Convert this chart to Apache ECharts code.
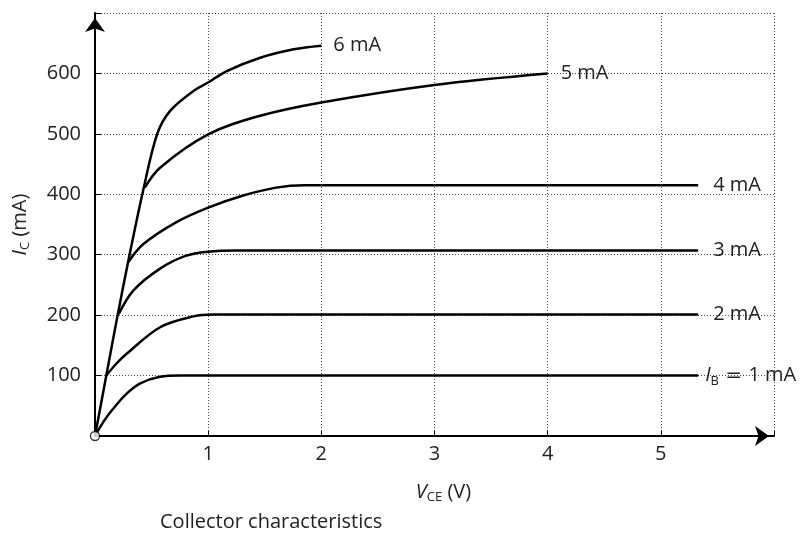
<!DOCTYPE html>
<html>
<head>
<meta charset="utf-8">
<script src="https://cdn.jsdelivr.net/npm/echarts@6/dist/echarts.min.js"></script>
<style>
  html, body { margin: 0; padding: 0; background: #fff; }
  #chart { width: 805px; height: 535px; }
</style>
</head>
<body>
<div id="chart"></div>
<script>
// collector curves, [V_CE (V), I_C (mA)]
const ib1 = [[0, 0], [0.08, 25], [0.16, 45], [0.28, 70], [0.4, 87], [0.575, 98], [0.75, 100], [5.33, 100]]
const ib2 = [[0.1, 100], [0.19, 120], [0.28, 136], [0.575, 180], [0.87, 198], [1.05, 201], [5.33, 201]]
const ib3 = [[0.21, 202], [0.34, 241], [0.575, 277], [0.8, 298], [1.0, 305], [1.25, 307], [5.33, 307]]
const ib4 = [[0.295, 288], [0.43, 318], [0.72, 354], [1.0, 378], [1.31, 398], [1.6, 411], [1.85, 415], [5.33, 415]]
const ib5 = [[0.44, 411], [0.575, 444], [1.0, 499], [1.46, 530], [2.0, 552], [3.0, 581], [4.0, 600]]
const ib6 = [[0, 0], [0.1, 100], [0.2, 200], [0.3, 295], [0.43, 410], [0.55, 500], [0.664, 538], [0.87, 571], [1.0, 585], [1.165, 604], [1.46, 626], [1.755, 640], [2.0, 646]]
const origin = [[0, 0]]

const curves = [ib1, ib2, ib3, ib4, ib5, ib6]
const curveLabels = ['{i|I}{sub|B}{eq| = }1 mA', '2 mA', '3 mA', '4 mA', '5 mA', '6 mA']
const labelGaps = [7, 15, 15, 15, 13, 12]

const xTicks = [1, 2, 3, 4, 5]
const yTicks = [100, 200, 300, 400, 500, 600]

const font = '"Open Sans", "Noto Sans", sans-serif'
const textColor = '#222'

const richText = {
  i: { fontStyle: 'italic', fontSize: 20, fontFamily: font, color: textColor },
  sub: { fontSize: 13, fontFamily: font, color: textColor, padding: [11, 0, 0, 0] },
  eq: { fontSize: 20, fontFamily: '"DejaVu Sans", sans-serif', color: textColor }
}

const chart = echarts.init(document.getElementById('chart'), null, { renderer: 'canvas' })

const option = {
  animation: false,
  title: {
    text: 'Collector characteristics',
    left: 160,
    top: 512,
    padding: 0,
    textStyle: { fontFamily: font, fontSize: 20, fontWeight: 'normal', color: textColor }
  },
  grid: {
    left: 95,
    right: 31,
    top: 13,
    bottom: 99,
    containLabel: false
  },
  xAxis: {
    type: 'value',
    min: 0,
    max: 6,
    interval: 1,
    name: '{i|V}{sub|CE} (V)',
    nameLocation: 'middle',
    nameGap: 44,
    nameTextStyle: { fontFamily: font, fontSize: 20, color: textColor, rich: richText, padding: [0, 0, 0, 18] },
    axisLine: {
      onZero: false,
      symbol: ['none', 'arrow'],
      symbolSize: [15, 14],
      symbolOffset: [0, -5],
      lineStyle: { color: '#000', width: 2 }
    },
    axisTick: { inside: true, length: 5, lineStyle: { color: '#000' } },
    axisLabel: {
      fontFamily: font,
      fontSize: 20,
      color: textColor,
      margin: 8,
      formatter: v => (xTicks.includes(v) ? String(v) : '')
    },
    splitLine: { show: true, lineStyle: { color: '#444', type: [1, 2], width: 1 } }
  },
  yAxis: {
    type: 'value',
    min: 0,
    max: 700,
    interval: 100,
    name: '{i|I}{sub|C} (mA)',
    nameLocation: 'middle',
    nameGap: 63,
    nameRotate: 90,
    nameTextStyle: { fontFamily: font, fontSize: 20, color: textColor, rich: richText },
    axisLine: {
      onZero: false,
      symbol: ['none', 'arrow'],
      symbolSize: [15, 14],
      symbolOffset: [0, -5],
      lineStyle: { color: '#000', width: 2 }
    },
    axisTick: { inside: true, length: 6, lineStyle: { color: '#000' } },
    axisLabel: {
      fontFamily: font,
      fontSize: 20,
      color: textColor,
      margin: 14,
      padding: [5, 0, 0, 0],
      formatter: v => (yTicks.includes(v) ? String(v) : '')
    },
    splitLine: { show: true, lineStyle: { color: '#444', type: [1, 2], width: 1 } }
  },
  series: curves.map((data, i) => ({
    type: 'line',
    data: data,
    smooth: 0.35,
    showSymbol: false,
    lineStyle: { color: '#000', width: 2.5 },
    endLabel: {
      show: true,
      formatter: curveLabels[i],
      distance: labelGaps[i],
      fontFamily: font,
      fontSize: 20,
      color: textColor,
      rich: richText
    },
    z: 3
  })).concat([{
    type: 'scatter',
    data: origin,
    clip: false,
    symbol: 'circle',
    symbolSize: 9,
    itemStyle: { color: '#fff', borderColor: '#000', borderWidth: 1.3 },
    z: 5
  }])
}

chart.setOption(option)
</script>
</body>
</html>
